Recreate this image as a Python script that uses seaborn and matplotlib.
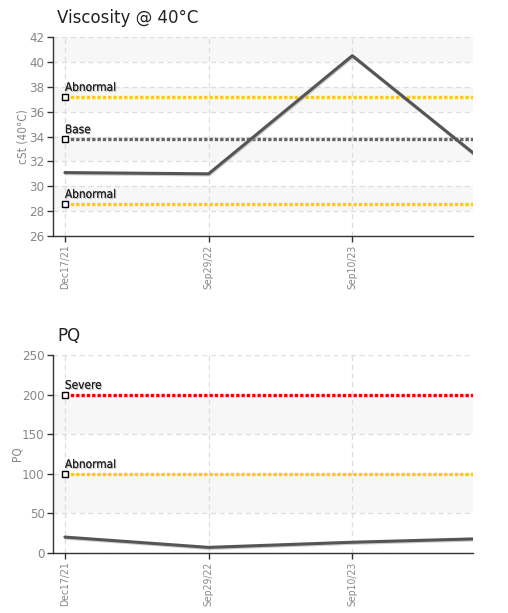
import matplotlib
matplotlib.use("Agg")
import matplotlib.pyplot as plt
import matplotlib.patheffects as pe
import matplotlib.transforms as mtrans
import seaborn as sns
import pandas as pd

# sample dates (last sample falls past the right edge of the plot)
sample_dates = ["Dec17/21", "Sep29/22", "Sep10/23", "Next"]
visible_ticks = ["Dec17/21", "Sep29/22", "Sep10/23"]

visc_values = [31.1, 31.0, 40.5, 31.2]
visc_limits = [("Abnormal", 37.2, "#ffcc00"), ("Base", 33.8, "#666666"), ("Abnormal", 28.6, "#ffcc00")]
visc_ticks = [26, 28, 30, 32, 34, 36, 38, 40, 42]

pq_values = [20, 7, 13.5, 18.5]
pq_limits = [("Severe", 200, "#ff0000"), ("Abnormal", 100, "#ffcc00")]
pq_ticks = [0, 50, 100, 150, 200, 250]

sns.set_style("white")
plt.rcParams["font.family"] = ["DejaVu Sans"]
narrow = dict(family="DejaVu Sans", fontstretch="condensed")

fig = plt.figure(figsize=(5.08, 6.13), dpi=100)
ax1 = fig.add_axes([0.1043, 0.615, 0.8268, 0.3246])
ax2 = fig.add_axes([0.1043, 0.098, 0.8268, 0.323])

XMAX = 2.84


def draw(ax, values, limits, ticks, title, ylabel, label_x):
    df = pd.DataFrame({"idx": range(len(values)), "value": values})
    # alternating bands
    for i in range(len(ticks) - 1):
        if i % 2 == 1:
            ax.axhspan(ticks[i], ticks[i + 1], color="#f7f7f7", lw=0, zorder=0)
    for t in ticks:
        ax.axhline(t, color="#dddddd", lw=0.9, ls=(0, (4, 3)), zorder=1)
    for i in range(len(visible_ticks)):
        ax.axvline(i, color="#dddddd", lw=0.9, ls=(0, (4, 3)), zorder=1)

    for name, val, col in limits:
        ax.hlines(val, 0, XMAX, colors=col, lw=2.4, linestyles=(0, (1, 0.6)), zorder=3)
        ax.plot([0], [val], marker="s", ms=4.5, mfc="white", mec="black", mew=1, zorder=5, clip_on=False)
        ax.text(0, val, name, fontsize=8.5, color="#222222", va="bottom", ha="left", zorder=6,
                transform=ax.transData + mtrans.ScaledTranslation(0, 2 / 72, fig.dpi_scale_trans),
                path_effects=[pe.withSimplePatchShadow(offset=(0.8, -0.8), shadow_rgbFace="#999999", alpha=0.6), pe.Normal()],
                **narrow)

    sns.lineplot(data=df, x="idx", y="value", ax=ax, color="#555555", lw=2.2, zorder=4,
                 path_effects=[pe.SimpleLineShadow(offset=(0.5, -0.8), shadow_color="#aaaaaa", alpha=0.6), pe.Normal()])

    ax.set_xlim(-0.083, XMAX)
    ax.set_ylim(ticks[0], ticks[-1])
    ax.set_yticks(ticks)
    ax.set_xticks(range(len(visible_ticks)))
    ax.set_xticklabels(visible_ticks, rotation=90, fontsize=7.5, color="#888888", **narrow)
    ax.set_yticklabels([str(t) for t in ticks], fontsize=9.5, color="#888888", **narrow)
    ax.tick_params(axis="both", which="both", direction="out", length=4, width=1, color="#333333", pad=2,
                   left=True, bottom=True)
    for s in ["top", "right"]:
        ax.spines[s].set_visible(False)
    for s in ["left", "bottom"]:
        ax.spines[s].set_color("#333333")
        ax.spines[s].set_linewidth(1)
    ax.set_xlabel("")
    ax.set_ylabel(ylabel, fontsize=8.5, color="#888888", va="center", **narrow)
    ax.yaxis.set_label_coords(label_x, 0.5)
    ax.set_title(title, loc="left", fontsize=12, color="#222222", pad=10, x=0.01)


draw(ax1, visc_values, visc_limits, visc_ticks, "Viscosity @ 40°C", "cSt (40°C)", -0.07)
draw(ax2, pq_values, pq_limits, pq_ticks, "PQ", "PQ", -0.085)

fig.savefig("out.png", dpi=100)
